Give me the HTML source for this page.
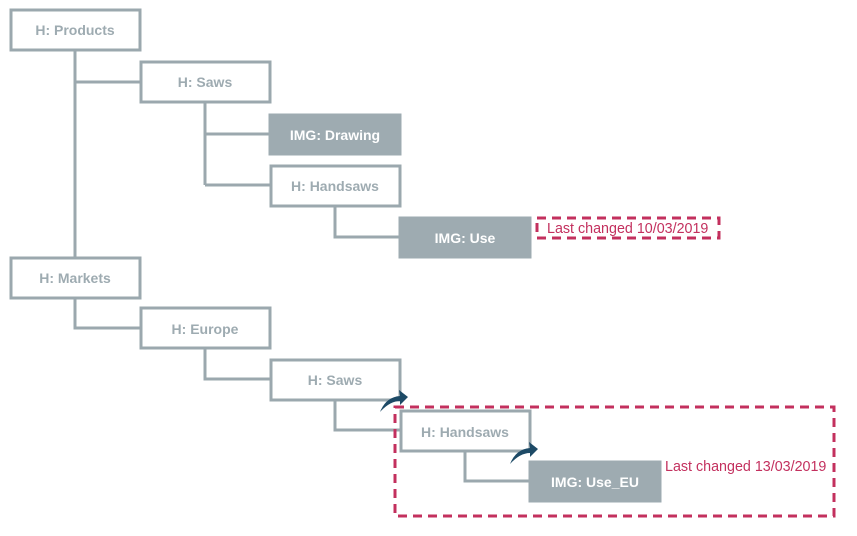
<!DOCTYPE html>
<html><head><meta charset="utf-8"><style>
html,body{margin:0;padding:0;background:#fff;}
svg{display:block;}
text{font-family:"Liberation Sans",sans-serif;}
.b{fill:#fff;stroke:#9ba8ae;stroke-width:3;}
.f{fill:#9eabb1;stroke:#9eabb1;stroke-width:1;}
.t{fill:#9eabb1;font-size:14px;font-weight:bold;text-anchor:middle;}
.tw{fill:#fff;font-size:14px;font-weight:bold;text-anchor:middle;}
.l{stroke:#9ba8ae;stroke-width:3;fill:none;}
.d{fill:none;stroke:#c3305e;stroke-width:3;stroke-dasharray:9,6;}
.r{fill:#c3305e;font-size:14.3px;}
.a{fill:#1d4a66;}
</style></head><body>
<svg width="857" height="536" viewBox="0 0 857 536">
<path class="l" d="M75,50 V258 M75,82 H140 M205,102 V185 M205,134 H269 M205,185 H270 M335,206 V237 H399"/>
<path class="l" d="M75,298 V328 H140 M205,348 V379 H270 M335,400 V430 H400 M465,451 V481 H529"/>
<rect class="b" x="11" y="10" width="129" height="40"/><text class="t" x="75" y="35">H: Products</text>
<rect class="b" x="141" y="62" width="129" height="40"/><text class="t" x="205" y="87">H: Saws</text>
<rect class="f" x="269" y="114" width="132" height="41"/><text class="tw" x="335" y="140">IMG: Drawing</text>
<rect class="b" x="271" y="166" width="129" height="40"/><text class="t" x="335" y="191">H: Handsaws</text>
<rect class="f" x="399" y="217" width="132" height="41"/><text class="tw" x="465" y="243">IMG: Use</text>
<rect class="b" x="11" y="258" width="129" height="40"/><text class="t" x="75" y="283">H: Markets</text>
<rect class="b" x="141" y="308" width="129" height="40"/><text class="t" x="205" y="334">H: Europe</text>
<rect class="b" x="271" y="360" width="129" height="40"/><text class="t" x="335" y="385">H: Saws</text>
<rect class="b" x="401" y="411" width="129" height="40"/><text class="t" x="465" y="437">H: Handsaws</text>
<rect class="f" x="529" y="461" width="132" height="41"/><text class="tw" x="595" y="487">IMG: Use_EU</text>
<rect class="d" x="537" y="218" width="182" height="20"/>
<text class="r" x="547" y="233">Last changed 10/03/2019</text>
<rect class="d" x="395" y="407" width="439" height="109"/>
<text class="r" x="665" y="471">Last changed 13/03/2019</text>
<path class="a" d="M380,412 Q386,397 400,396 L399,390 L408,397 L400,405 L400,401 Q390,401 380,412 Z"/>
<path class="a" d="M510,464 Q516,449 530,448 L529,442 L538,449 L530,457 L530,453 Q520,453 510,464 Z"/>
</svg>
</body></html>
